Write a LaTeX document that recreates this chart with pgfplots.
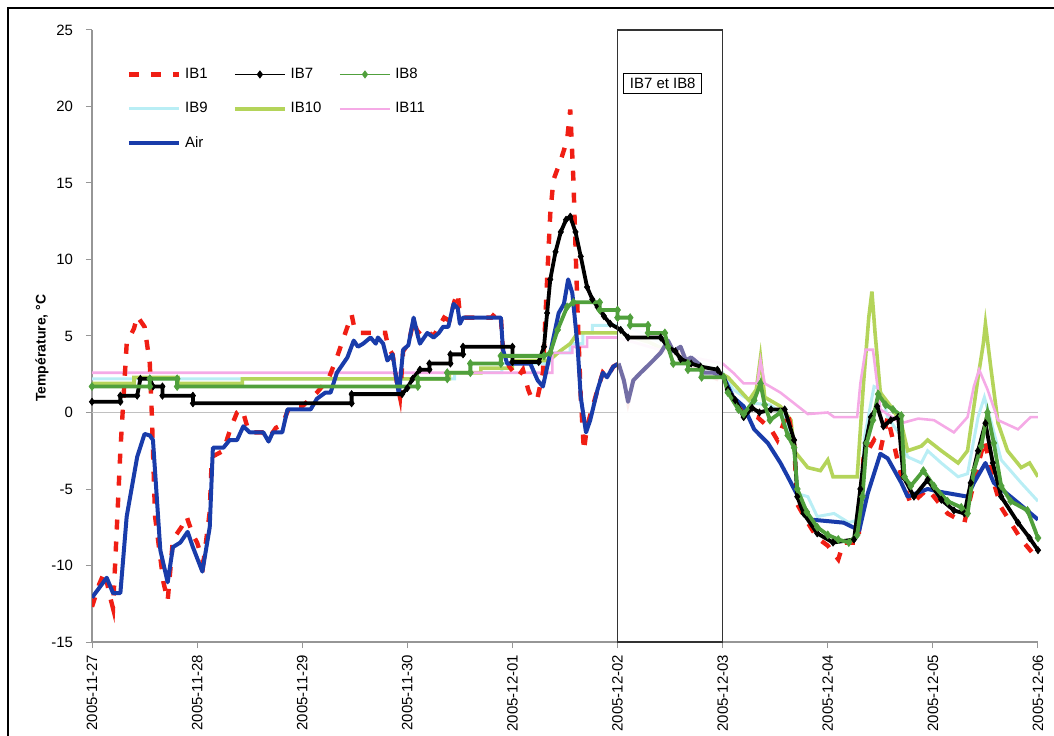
\documentclass[border=0pt]{standalone}
\usepackage{fontspec}
\setmainfont{Liberation Sans}
\usepackage{pgfplots}
\pgfplotsset{compat=1.18}
\definecolor{cAir}{RGB}{25,60,170}
\definecolor{cAirFaded}{RGB}{115,110,165}
\definecolor{cIBone}{RGB}{240,30,20}
\definecolor{cIBeight}{RGB}{80,160,60}
\definecolor{cIBnine}{RGB}{185,238,245}
\definecolor{cIBten}{RGB}{180,212,90}
\definecolor{cIBeleven}{RGB}{245,170,230}
\definecolor{axgray}{RGB}{150,150,150}
\pgfplotstableread{
x y
0.00 -12.1
0.14 -10.8
0.20 -11.8
0.27 -11.8
0.33 -6.8
0.43 -2.9
0.50 -1.4
0.55 -1.5
0.58 -1.8
0.65 -9.0
0.72 -11.1
0.77 -8.8
0.84 -8.5
0.91 -7.8
0.96 -8.8
1.05 -10.4
1.12 -7.5
1.15 -2.3
1.25 -2.3
1.31 -1.8
1.38 -1.8
1.44 -0.9
1.50 -1.3
1.63 -1.3
1.68 -1.9
1.72 -1.3
1.81 -1.3
1.86 0.2
2.08 0.2
2.14 0.9
2.22 1.3
2.27 1.3
2.33 2.6
2.43 3.6
2.49 4.7
2.53 4.3
2.58 4.5
2.65 4.9
2.70 4.5
2.72 4.9
2.77 4.5
2.81 3.4
2.86 3.8
2.90 2.0
2.92 1.2
2.96 4.1
3.01 4.4
3.06 6.2
3.10 5.0
3.12 4.5
3.19 5.2
3.25 4.9
3.30 5.2
3.34 5.6
3.39 5.6
3.44 7.1
3.48 6.8
3.50 5.8
3.53 6.2
3.89 6.2
3.91 4.1
3.95 3.2
4.05 3.2
4.17 3.2
4.24 2.1
4.29 1.7
4.36 3.9
4.44 6.5
4.49 7.1
4.53 8.7
4.57 7.8
4.62 4.3
4.65 1.0
4.70 -1.3
4.74 -0.5
4.81 1.5
4.86 2.6
4.90 2.3
4.96 3.0
5.01 3.2
5.06 2.1
5.10 0.7
5.15 2.1
5.22 2.6
5.31 3.2
5.41 3.9
5.48 4.7
5.53 4.0
5.60 4.3
5.65 3.4
5.70 3.6
5.77 3.2
5.82 2.6
5.91 2.6
6.01 2.3
6.10 1.0
6.20 0.4
6.30 -1.1
6.43 -2.0
6.55 -3.3
6.62 -4.2
6.68 -5.0
6.84 -7.0
7.00 -7.1
7.15 -7.2
7.30 -7.7
7.38 -5.3
7.50 -2.7
7.57 -3.0
7.70 -4.6
7.76 -5.5
7.95 -5.0
8.08 -5.2
8.33 -5.5
8.39 -4.6
8.50 -3.3
8.58 -4.6
8.81 -5.9
9.00 -7.0
}\airtable
\begin{document}
\begin{tikzpicture}
\useasboundingbox (-46bp,-47bp) rectangle (481bp,321bp);
\begin{axis}[
  scale only axis, width=473bp, height=306bp,
  xmin=0, xmax=9, ymin=-15, ymax=25,
  axis x line*=bottom, axis y line*=left,
  axis line style={axgray, line width=0.6bp},
  tick style={axgray, line width=0.5bp},
  tick align=outside, major tick length=3bp,
  xtick={0,1,2,3,4,5,6,7,8,9},
  xticklabels={2005-11-27,2005-11-28,2005-11-29,2005-11-30,2005-12-01,2005-12-02,2005-12-03,2005-12-04,2005-12-05,2005-12-06},
  xticklabel style={rotate=90, anchor=east, font=\fontsize{7.5}{9}\selectfont},
  ytick={-15,-10,-5,0,5,10,15,20,25},
  yticklabels={-15,-10,-5,0,5,10,15,20,25},
  yticklabel style={font=\fontsize{7.5}{9}\selectfont, xshift=-3bp},
  ylabel={\bfseries Température, °C},
  every axis y label/.style={at={(axis description cs:-0.053,0.48)}, rotate=90, anchor=center, font=\fontsize{7}{8}\selectfont},
  legend columns=3,
  legend style={draw=none, fill=none, at={(0.03,0.952)}, anchor=north west,
    font=\fontsize{7.5}{9}\selectfont, row sep=6.5bp,
    /tikz/every even column/.append style={column sep=0bp}},
  legend cell align=left,
  legend image code/.code={\draw[mark repeat=2,mark phase=2,#1] plot coordinates {(0bp,0bp) (12.5bp,0bp) (25bp,0bp)};},
]
% legend
\addlegendimage{cIBone, line width=2.2bp, dash pattern=on 5bp off 6bp}
\addlegendentry{\makebox[22bp][l]{IB1}}
\addlegendimage{black, line width=0.6bp, mark=diamond*, mark size=1.6bp}
\addlegendentry{\makebox[22bp][l]{IB7}}
\addlegendimage{cIBeight, line width=0.6bp, mark=diamond*, mark size=1.6bp}
\addlegendentry{\makebox[22bp][l]{IB8}}
\addlegendimage{cIBnine, line width=1.5bp}
\addlegendentry{\makebox[22bp][l]{IB9}}
\addlegendimage{cIBten, line width=1.8bp}
\addlegendentry{\makebox[22bp][l]{IB10}}
\addlegendimage{cIBeleven, line width=1.3bp}
\addlegendentry{\makebox[22bp][l]{IB11}}
\addlegendimage{cAir, line width=2bp}
\addlegendentry{\makebox[22bp][l]{Air}}

\draw[axgray!60, line width=0.5bp] (axis cs:0,0) -- (axis cs:9,0);

% IB9
\addplot[forget plot, cIBnine, line width=1.5bp] coordinates {
(0,2.2) (3.45,2.2) (3.45,2.6) (3.90,2.6) (3.90,3.2) (4.35,3.2) (4.39,3.9) (4.55,3.9) (4.55,4.5) (4.67,4.5) (4.67,5.2) (4.76,5.2) (4.76,5.7) (5.05,5.7) (5.30,5.0) (5.60,3.8) (6.00,2.6) (6.10,1.5) (6.30,0.6) (6.45,0.5) (6.60,-0.3) (6.68,-2.5) (6.71,-5.3) (6.81,-5.5) (6.90,-6.8) (7.06,-6.6) (7.20,-7.2) (7.30,-7.0) (7.35,-1.6) (7.44,1.7) (7.50,1.5) (7.57,-0.3) (7.70,-1.6) (7.76,-2.9) (7.89,-3.3) (7.95,-2.5) (8.08,-3.3) (8.24,-4.2) (8.33,-4.0) (8.43,-0.3) (8.49,1.0) (8.55,-0.5) (8.65,-3.1) (8.84,-4.6) (9.00,-5.8)};
% IB10
\addplot[forget plot, cIBten, line width=1.8bp] coordinates {
(0,1.9) (0.40,1.9) (0.40,2.3) (0.82,2.3) (0.82,1.9) (1.43,1.9) (1.43,2.2) (3.40,2.2) (3.40,2.6) (3.70,2.6) (3.70,2.9) (4.00,2.9) (4.00,3.4) (4.35,3.4) (4.45,4.0) (4.55,4.5) (4.62,5.2) (5.00,5.2) (5.30,4.6) (5.60,3.6) (6.00,2.5) (6.05,2.3) (6.25,0.8) (6.32,1.5) (6.36,3.6) (6.40,1.0) (6.55,0.4) (6.65,-0.5) (6.68,-2.5) (6.81,-3.6) (6.93,-3.8) (7.00,-3.1) (7.05,-4.2) (7.28,-4.2) (7.34,1.9) (7.39,6.2) (7.42,7.9) (7.45,5.2) (7.50,1.3) (7.60,0.4) (7.70,-0.7) (7.76,-2.5) (7.89,-2.2) (7.95,-1.8) (8.08,-2.5) (8.24,-3.3) (8.33,-2.5) (8.43,2.3) (8.48,4.5) (8.50,5.8) (8.55,3.0) (8.62,-0.7) (8.71,-2.5) (8.84,-3.6) (8.92,-3.3) (9.00,-4.2)};
% IB11
\addplot[forget plot, cIBeleven, line width=1.3bp] coordinates {
(0,2.6) (4.38,2.6) (4.38,3.9) (4.57,3.9) (4.57,4.3) (4.71,4.3) (4.71,4.9) (5.00,4.9) (5.50,3.9) (6.00,3.2) (6.10,2.6) (6.20,1.9) (6.33,1.9) (6.36,3.4) (6.40,1.9) (6.55,1.3) (6.68,0.6) (6.81,-0.1) (7.00,0.0) (7.06,-0.3) (7.28,-0.3) (7.31,1.9) (7.36,4.1) (7.43,4.1) (7.50,0.2) (7.70,-0.7) (7.86,-0.4) (8.01,-0.5) (8.20,-1.3) (8.33,-0.3) (8.39,1.7) (8.44,2.8) (8.52,1.5) (8.62,-0.5) (8.81,-1.1) (8.93,-0.3) (9.00,-0.3)};
% IB1
\addplot[forget plot, cIBone, line width=2.2bp, dash pattern=on 5bp off 6bp] coordinates {
(0.00,-12.7) (0.07,-11.2) (0.12,-10.4) (0.17,-12.0) (0.20,-12.8) (0.24,-7.0) (0.27,-2.5) (0.33,4.5) (0.40,5.5) (0.43,6.3) (0.50,5.6) (0.55,3.2) (0.57,-0.3) (0.60,-6.8) (0.68,-11.1) (0.72,-12.3) (0.77,-8.3) (0.85,-7.5) (0.90,-6.8) (0.96,-8.0) (1.00,-8.5) (1.06,-9.8) (1.12,-6.5) (1.14,-2.9) (1.25,-2.5) (1.32,-1.0) (1.38,0.0) (1.43,0.2) (1.48,-1.0) (1.50,-1.3) (1.62,-1.3) (1.68,-1.7) (1.75,-1.0) (1.81,-0.8) (1.88,0.4) (2.00,0.4) (2.14,1.3) (2.25,2.2) (2.33,3.6) (2.40,5.0) (2.47,6.4) (2.50,5.4) (2.55,5.2) (2.70,5.2) (2.79,5.2) (2.82,4.2) (2.86,3.8) (2.90,2.0) (2.93,1.0) (2.96,4.0) (3.01,4.5) (3.06,6.0) (3.10,5.2) (3.15,5.5) (3.25,5.0) (3.35,6.2) (3.40,6.0) (3.45,7.3) (3.48,7.8) (3.50,6.4) (3.53,6.2) (3.80,6.2) (3.85,6.6) (3.89,6.2) (3.91,4.1) (3.97,3.0) (4.05,2.3) (4.10,2.8) (4.15,1.5) (4.19,0.8) (4.24,1.0) (4.29,2.6) (4.33,8.7) (4.36,13.0) (4.39,15.2) (4.46,16.5) (4.52,17.8) (4.55,19.8) (4.58,15.2) (4.62,6.5) (4.65,1.0) (4.68,-2.5) (4.71,-0.9) (4.81,1.5) (4.86,2.6) (4.90,2.3) (4.96,3.0) (5.01,3.2) (5.06,2.1) (5.10,0.7) (5.15,2.1) (5.31,3.2) (5.48,4.5) (5.65,3.4) (5.82,2.6) (6.01,2.0) (6.10,1.0) (6.20,0.0) (6.33,-0.3) (6.46,-1.1) (6.52,-1.8) (6.62,0.0) (6.68,-2.1) (6.71,-6.0) (6.81,-7.2) (6.90,-8.2) (7.00,-8.7) (7.10,-9.6) (7.15,-8.5) (7.29,-8.5) (7.34,-3.0) (7.44,-1.8) (7.50,-2.5) (7.57,-0.3) (7.70,-4.2) (7.79,-6.0) (7.95,-5.0) (8.14,-6.6) (8.30,-7.2) (8.39,-4.6) (8.49,-1.8) (8.58,-4.6) (8.65,-6.2) (8.84,-8.3) (9.00,-9.6)};

% Air
\addplot[forget plot, cAir, line width=2bp, line join=round] table[x=x, y=y] {\airtable};

\fill[white, opacity=0.92] (axis cs:5,-15) rectangle (axis cs:6,25);

% Air, faded part inside the IB7 et IB8 window
\addplot[forget plot, cAirFaded, line width=2bp, line join=round, restrict x to domain=4.99:6.02] table[x=x, y=y] {\airtable};

% IB7
\addplot[forget plot, black, line width=1.9bp, mark=diamond*, mark size=1.8bp, mark options={line width=0.3bp}] coordinates {
(0,0.7) (0.27,0.7) (0.27,1.1) (0.43,1.1) (0.46,2.2) (0.55,2.2) (0.58,1.7) (0.67,1.7) (0.67,1.1) (0.96,1.1) (0.96,0.6) (2.47,0.6) (2.47,1.2) (2.95,1.2) (3.00,1.6) (3.05,2.2) (3.12,2.8) (3.21,2.8) (3.21,3.2) (3.41,3.2) (3.41,3.8) (3.53,3.8) (3.53,4.3) (4.00,4.3) (4.00,3.3) (4.25,3.3) (4.30,4.3) (4.33,6.5) (4.36,8.7) (4.41,10.5) (4.46,11.8) (4.51,12.6) (4.55,12.8) (4.60,11.8) (4.65,10.2) (4.71,8.2) (4.76,7.4) (4.81,6.9) (4.87,6.3) (4.93,5.8) (5.03,5.4) (5.10,4.9) (5.41,4.9) (5.48,4.3) (5.55,4.0) (5.60,3.5) (5.70,3.2) (5.79,3.0) (5.95,2.8) (6.01,2.3) (6.05,1.5) (6.12,0.8) (6.20,-0.3) (6.28,0.3) (6.35,0.0) (6.46,0.2) (6.59,0.2) (6.68,-1.8) (6.71,-5.5) (6.77,-6.6) (6.90,-7.9) (7.05,-8.5) (7.25,-8.3) (7.31,-5.0) (7.36,-2.0) (7.41,-0.3) (7.47,0.4) (7.53,-0.9) (7.60,-0.5) (7.67,-0.3) (7.72,-4.2) (7.82,-5.5) (7.95,-4.4) (8.08,-5.7) (8.20,-6.4) (8.30,-6.6) (8.36,-4.6) (8.43,-2.5) (8.50,-0.7) (8.57,-3.3) (8.65,-5.5) (8.81,-7.2) (8.92,-8.2) (9.00,-9.0)};
% IB8
\addplot[forget plot, cIBeight, line width=1.9bp, mark=diamond*, mark size=2bp, mark options={line width=0.3bp}] coordinates {
(0,1.7) (0.55,1.7) (0.55,2.2) (0.81,2.2) (0.81,1.7) (3.10,1.7) (3.10,2.2) (3.38,2.2) (3.38,2.6) (3.60,2.6) (3.60,3.2) (3.89,3.2) (3.89,3.7) (4.30,3.7) (4.36,3.9) (4.43,5.4) (4.52,6.9) (4.58,7.2) (4.83,7.2) (4.83,6.7) (5.00,6.7) (5.00,6.2) (5.12,6.2) (5.12,5.7) (5.29,5.7) (5.29,5.2) (5.45,5.2) (5.48,4.3) (5.53,3.2) (5.67,3.2) (5.67,2.8) (5.80,2.8) (5.80,2.3) (6.01,2.3) (6.05,1.3) (6.15,0.2) (6.20,-0.1) (6.30,0.8) (6.36,1.9) (6.40,0.5) (6.45,-0.5) (6.55,0.0) (6.62,-1.5) (6.68,-2.3) (6.71,-5.0) (6.80,-6.5) (6.90,-7.5) (7.00,-8.0) (7.10,-8.3) (7.20,-8.5) (7.28,-8.0) (7.33,-5.5) (7.37,-2.0) (7.43,-0.5) (7.48,1.2) (7.55,0.5) (7.62,0.2) (7.70,-0.2) (7.73,-4.2) (7.79,-4.8) (7.91,-3.8) (8.01,-4.8) (8.14,-5.8) (8.27,-6.2) (8.33,-6.6) (8.39,-3.8) (8.46,-2.2) (8.52,0.0) (8.58,-2.0) (8.65,-4.8) (8.74,-5.8) (8.90,-6.4) (9.00,-8.2)};

\draw[black!80, line width=0.6bp] (axis cs:5,-15) rectangle (axis cs:6,25);
\node[draw=black, line width=0.5bp, fill=white, inner xsep=3bp, inner ysep=2.5bp, font=\fontsize{7.5}{9}\selectfont] at (axis cs:5.43,21.5) {IB7 et IB8};
\end{axis}
\draw[line width=0.8bp] (-42bp,-47bp) -- (-42bp,317bp) -- (481bp,317bp);
\end{tikzpicture}
\end{document}
